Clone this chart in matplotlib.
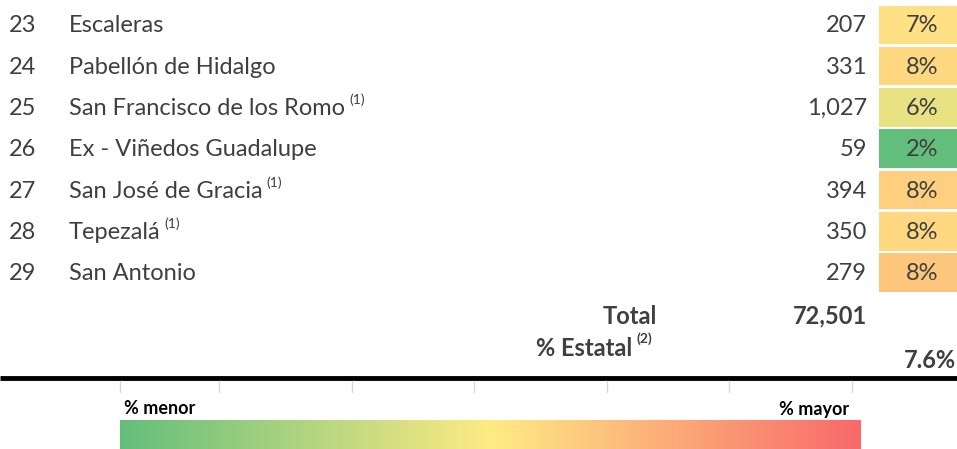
import matplotlib.pyplot as plt
import numpy as np
from matplotlib.colors import LinearSegmentedColormap

# Table data (rows 23-29)
nums = ['23', '24', '25', '26', '27', '28', '29']
names = ['Escaleras', 'Pabellón de Hidalgo', 'San Francisco de los Romo',
         'Ex - Viñedos Guadalupe', 'San José de Gracia', 'Tepezalá', 'San Antonio']
notes = ['', '', '(1)', '', '(1)', '(1)', '']
values = [207, 331, 1027, 59, 394, 350, 279]
pcts = [7, 8, 6, 2, 8, 8, 8]
cell_colors = ['#FFE084', '#FED880', '#E8E283', '#63BE7B', '#FDCF7F', '#FED880', '#FDC67D']
total = 72501
estatal = 7.6

plt.rcParams['font.family'] = ['Lato', 'DejaVu Sans']
txt = '#3f3f3f'
fs = 17

fig = plt.figure(figsize=(9.57, 4.49), dpi=100)
ax = fig.add_axes([0, 0, 1, 1])
ax.set_xlim(0, 957)
ax.set_ylim(449, 0)
ax.axis('off')

# Rows
y0, step = 26, 41.3
for i in range(len(names)):
    y = y0 + i * step
    ax.text(9, y, nums[i], fontsize=fs, color=txt, va='center', ha='left')
    t = ax.text(69, y, names[i], fontsize=fs, color=txt, va='center', ha='left')
    if notes[i]:
        ax.annotate(notes[i], xy=(1, 1), xycoords=t, xytext=(3, 3),
                    textcoords='offset points', fontsize=10, color=txt,
                    va='top', ha='left')
    ax.text(867, y, f'{values[i]:,}', fontsize=fs, color=txt, va='center', ha='right')
    ax.add_patch(plt.Rectangle((879, y - 20.5), 78, 38.5, color=cell_colors[i], lw=0))
    ax.text(922, y, f'{pcts[i]}%', fontsize=fs, color=txt, va='center', ha='center')

# Totals
ax.text(657, 316, 'Total', fontsize=fs, fontweight='bold', color=txt, va='center', ha='right')
ax.text(867, 316, f'{total:,}', fontsize=fs, fontweight='bold', color=txt, va='center', ha='right')
t = ax.text(632, 348, '% Estatal', fontsize=fs, fontweight='bold', color=txt,
            va='center', ha='right')
ax.annotate('(2)', xy=(1, 1), xycoords=t, xytext=(3, 3), textcoords='offset points',
            fontsize=10, fontweight='bold', color=txt, va='top', ha='left')
ax.text(956, 361, f'{estatal}%', fontsize=fs, fontweight='bold', color=txt, va='center', ha='right')

# Thick separator line and light tick marks
ax.plot([0, 957], [377.5, 377.5], color='black', lw=3.5, solid_capstyle='butt')
for x in [120, 219, 352, 474, 607, 729, 852]:
    ax.plot([x, x], [381, 392], color='#d9d9d9', lw=1)

# Colour scale legend
cmap = LinearSegmentedColormap.from_list('scale', ['#63BE7B', '#FFEB84', '#F8696B'])
grad = np.linspace(0, 1, 256).reshape(1, -1)
ax.imshow(grad, cmap=cmap, aspect='auto', extent=[120, 861, 449, 420], zorder=1)
ax.set_xlim(0, 957)
ax.set_ylim(449, 0)
ax.text(124, 409, '% menor', fontsize=13, fontweight='bold', color='black', va='center', ha='left')
ax.text(849, 409, '% mayor', fontsize=13, fontweight='bold', color='black', va='center', ha='right')

fig.savefig('out.png', dpi=100)
